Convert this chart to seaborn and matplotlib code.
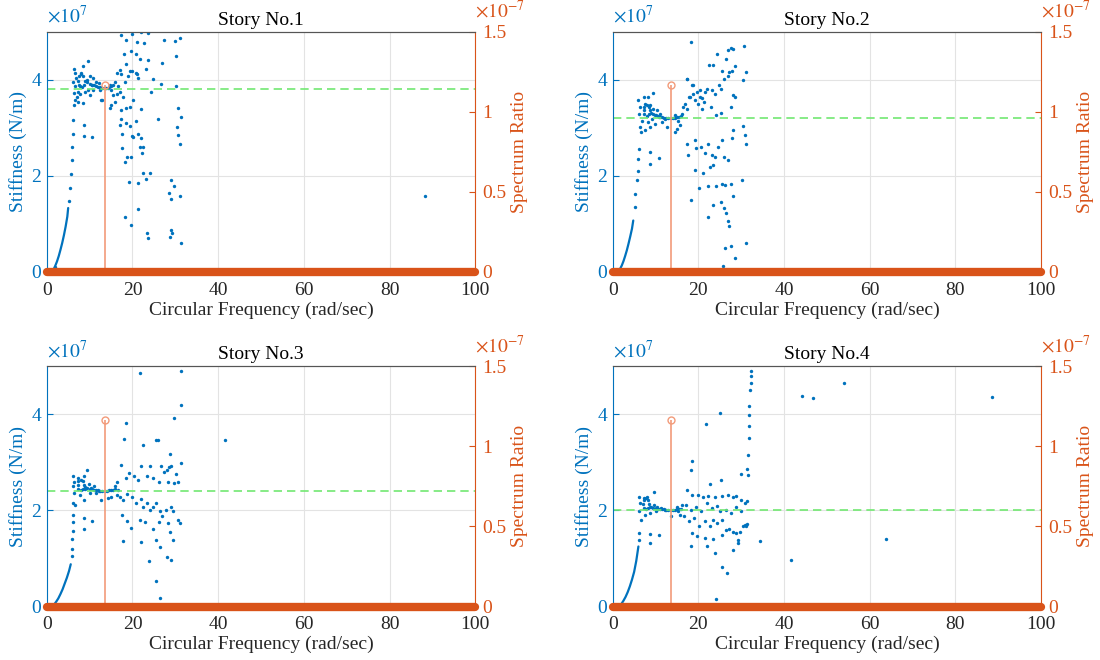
import numpy as np
import matplotlib
matplotlib.use("Agg")
import matplotlib.pyplot as plt
import seaborn as sns
from matplotlib.ticker import FuncFormatter

# ---- data (frequency in rad/sec, stiffness in units of 1e7 N/m) ----
titles = ['Story No.1', 'Story No.2', 'Story No.3', 'Story No.4']

# mean stiffness (green dashed line), 1e7 N/m
k_mean = [3.8, 3.2, 2.4, 2.0]

# spectrum ratio peak (stem), units of 1e-7
peak_freq = [13.5, 13.6, 13.5, 13.6]
peak_ratio = [1.165, 1.165, 1.165, 1.165]
band_freq = [0, 100]      # spectrum ratio is zero over the whole band

# low frequency rise (drawn as a continuous curve)
s1_rise = [(1.2, 0.0), (1.6, 0.05), (2.0, 0.13), (2.4, 0.22), (2.8, 0.33), (3.2, 0.46),
           (3.6, 0.60), (4.0, 0.76), (4.4, 0.94), (4.8, 1.15), (5.0, 1.33)]
s2_rise = [(1.3, 0.0), (1.7, 0.06), (2.1, 0.13), (2.5, 0.22), (2.9, 0.33), (3.3, 0.45),
           (3.7, 0.59), (4.1, 0.74), (4.5, 0.90), (4.8, 1.07)]
s3_rise = [(1.2, 0.0), (1.7, 0.04), (2.2, 0.10), (2.7, 0.17), (3.2, 0.26), (3.7, 0.36),
           (4.2, 0.48), (4.7, 0.60), (5.2, 0.74), (5.6, 0.88)]
s4_rise = [(1.5, 0.0), (2.0, 0.05), (2.5, 0.12), (3.0, 0.20), (3.5, 0.30), (4.0, 0.42),
           (4.5, 0.56), (5.0, 0.72), (5.5, 0.95), (6.0, 1.25)]

s1_points = [
    (5.2, 1.47), (5.4, 1.75), (5.6, 2.04), (5.8, 2.32), (6.0, 2.6), (6.05, 2.88), (6.2, 3.16), (2.0, 0.1),
    (6.4, 4.22), (6.6, 4.14), (6.8, 4.04), (6.2, 3.96), (6.5, 3.86), (6.4, 3.72), (6.5, 3.58), (6.4, 3.47),
    (7.0, 3.65), (7.4, 3.54), (8.4, 3.51), (8.5, 4.28), (9.7, 4.39), (8.1, 4.14), (9.3, 4.0), (10.1, 4.07),
    (10.9, 4.04), (10.5, 3.89), (9.7, 3.79), (8.9, 3.75), (10.1, 3.68), (10.9, 3.79), (12.1, 3.93), (12.8, 3.58),
    (14.7, 3.89), (15.1, 3.79), (15.5, 3.68), (15.9, 3.54), (15.1, 3.47), (14.7, 3.42), (16.3, 4.14), (17.1, 4.21),
    (17.4, 4.11), (16.7, 3.86), (17.1, 3.75), (17.8, 3.65), (18.2, 3.96), (19.0, 4.07), (19.4, 4.18), (20.2, 3.58),
    (18.4, 3.42), (20.9, 4.14), (21.3, 4.04), (17.4, 3.37), (7.2, 3.75), (7.8, 3.7), (11.5, 3.95), (12.4, 3.78),
    (16.0, 3.95), (16.5, 3.7), (8.6, 3.05), (8.6, 2.83), (10.6, 2.81), (12.7, 3.57),
    (7.4, 3.98), (7.6, 4.08), (8.0, 4.12), (8.5, 4.08), (8.9, 3.98), (8.7, 3.88), (8.3, 3.84), (7.8, 3.86), (7.5, 3.9),
    (9.5, 3.95), (10.0, 3.92), (10.5, 3.9), (11.0, 3.88), (11.5, 3.86), (12.0, 3.85), (12.5, 3.84), (13.0, 3.83),
    (13.3, 3.82), (13.6, 3.82), (13.9, 3.82), (14.2, 3.83), (14.5, 3.84), (14.8, 3.86), (15.1, 3.87), (15.4, 3.88),
    (17.3, 4.93), (18.6, 4.82), (19.9, 4.95), (21.0, 4.78), (21.9, 4.99), (22.8, 4.77), (23.6, 4.97), (27.4, 4.82),
    (29.9, 4.80), (31.1, 4.87), (18.1, 4.54), (19.6, 4.59), (20.9, 4.54), (21.7, 4.43), (23.7, 4.41), (26.8, 4.35),
    (30.1, 4.50), (18.4, 4.33), (20.0, 4.19), (21.1, 4.12), (23.2, 4.23), (24.8, 4.02), (26.6, 3.92), (30.1, 3.86),
    (24.4, 3.74), (19.4, 3.43), (22.1, 3.40), (25.9, 3.19), (30.7, 3.42), (31.3, 3.23), (30.5, 3.02), (30.7, 2.85),
    (31.0, 2.67), (17.3, 3.19), (17.2, 3.05), (17.6, 2.88), (18.6, 3.09), (19.5, 3.03), (19.8, 2.83), (20.2, 2.81),
    (20.8, 3.14), (21.2, 2.88), (22.1, 2.78), (17.6, 2.57), (18.8, 2.40), (19.6, 2.40), (18.2, 2.29), (21.7, 2.60),
    (22.5, 2.60), (22.2, 2.47), (19.2, 1.88), (21.2, 1.86), (22.5, 2.05), (24.1, 2.05), (23.2, 1.93), (28.9, 1.91),
    (29.6, 1.78), (28.6, 1.64), (29.1, 1.51), (31.1, 1.57), (18.2, 1.14), (19.6, 0.98), (21.2, 1.31), (23.3, 0.81),
    (23.7, 0.70), (29.1, 0.88), (29.3, 0.81), (28.8, 0.72), (31.4, 0.61), (88.4, 1.59),
]

s2_points = [
    (5.1, 1.35), (5.3, 1.63), (5.6, 1.91), (5.8, 2.11), (6.0, 2.36), (6.1, 2.56),
    (6.0, 3.57), (6.4, 3.43), (6.2, 3.29), (6.8, 3.15), (6.4, 3.02), (6.6, 2.91), (7.2, 3.64), (8.3, 3.65),
    (9.5, 3.73), (7.5, 3.50), (8.7, 3.47), (9.5, 3.40), (10.3, 3.36), (11.1, 3.29), (10.7, 3.22), (9.9, 3.26),
    (9.1, 3.19), (8.3, 3.12), (8.7, 3.02), (9.9, 3.08), (11.4, 3.12), (12.6, 3.02), (12.2, 3.19), (14.5, 3.26),
    (15.3, 3.15), (15.7, 3.05), (14.9, 2.98), (14.5, 2.91), (16.1, 3.29), (16.5, 3.43), (16.9, 3.50), (17.4, 3.40),
    (17.4, 4.02), (18.4, 3.88), (18.1, 3.64), (18.8, 3.71), (19.6, 3.74), (20.4, 3.64), (21.2, 3.54), (20.8, 3.40),
    (8.6, 2.50), (8.8, 2.25), (10.8, 2.38), (7.6, 2.95),
    (7.2, 3.36), (7.4, 3.44), (7.9, 3.47), (8.4, 3.44), (8.6, 3.36), (8.4, 3.28), (7.9, 3.25), (7.4, 3.28),
    (9.0, 3.30), (9.5, 3.28), (10.0, 3.26), (10.5, 3.24), (11.0, 3.23), (11.5, 3.22), (12.0, 3.21), (12.5, 3.20),
    (13.0, 3.20), (13.5, 3.20), (14.0, 3.20), (14.5, 3.21), (15.0, 3.22), (15.5, 3.23), (16.0, 3.24),
    (18.2, 4.78), (24.4, 4.54), (22.5, 4.30), (23.5, 4.30), (25.6, 4.19), (26.4, 4.43), (27.0, 4.61), (27.6, 4.66),
    (28.0, 4.64), (27.2, 4.16), (27.8, 4.19), (26.8, 4.07), (26.0, 4.02), (30.7, 4.70), (31.1, 4.16), (30.5, 3.99),
    (28.6, 4.28), (17.4, 4.01), (18.7, 3.88), (20.3, 3.78), (21.5, 3.74), (21.9, 3.81), (23.1, 3.78), (23.9, 3.71),
    (24.8, 3.88), (25.2, 3.81), (28.0, 3.68), (28.5, 3.64), (17.8, 3.64), (19.1, 3.57), (19.9, 3.50), (20.9, 3.61),
    (23.0, 3.43), (24.0, 3.26), (25.2, 3.30), (27.6, 3.43), (30.3, 3.03), (30.8, 2.85), (31.1, 2.67), (28.0, 2.95),
    (27.9, 2.78), (17.4, 2.67), (17.6, 2.43), (19.1, 2.74), (19.5, 2.57), (20.7, 2.60), (21.5, 2.47), (22.3, 2.67),
    (23.1, 2.43), (23.9, 2.40), (24.6, 2.60), (25.6, 2.74), (26.0, 2.40), (19.1, 2.12), (21.1, 2.05), (22.7, 2.19),
    (23.5, 2.22), (26.8, 2.33), (18.2, 1.50), (20.2, 1.75), (22.3, 1.78), (24.0, 1.78), (25.4, 1.84), (26.3, 1.81),
    (27.6, 1.84), (30.1, 1.91), (23.4, 1.40), (25.2, 1.46), (25.9, 1.33), (26.4, 1.22), (26.8, 1.07), (27.2, 0.95),
    (28.0, 1.57), (22.2, 1.15), (26.2, 0.50), (27.6, 0.53), (31.0, 0.60), (28.6, 0.30), (25.8, 0.12),
]

s3_points = [
    (5.8, 1.05), (5.9, 1.2), (6.0, 1.4), (6.05, 1.58), (6.1, 1.75), (6.2, 1.9),
    (6.1, 2.71), (6.3, 2.60), (6.1, 2.50), (6.3, 2.36), (6.1, 2.15), (6.5, 2.12), (7.3, 2.67), (8.6, 2.71),
    (9.4, 2.85), (8.9, 2.44), (9.8, 2.56), (10.4, 2.47), (11.0, 2.50), (10.2, 2.36), (11.4, 2.36), (8.6, 2.22),
    (7.8, 2.33), (12.2, 2.40), (15.9, 2.50), (15.1, 2.29), (14.3, 2.26), (12.7, 2.22), (16.3, 2.60), (16.7, 2.43),
    (16.5, 2.33), (8.6, 1.84), (8.6, 1.61), (10.6, 1.77),
    (7.2, 2.53), (7.4, 2.61), (7.9, 2.64), (8.4, 2.61), (8.6, 2.53), (8.4, 2.45), (7.9, 2.42), (7.4, 2.45),
    (9.0, 2.48), (9.5, 2.46), (10.0, 2.45), (10.5, 2.44), (11.0, 2.43), (11.5, 2.42), (12.0, 2.42), (12.5, 2.41),
    (13.0, 2.41), (13.5, 2.41), (14.0, 2.41), (14.5, 2.42), (15.0, 2.42), (15.5, 2.43), (16.0, 2.44),
    (21.7, 4.86), (31.3, 4.90), (31.3, 4.19), (29.6, 3.92), (18.5, 3.82), (18.0, 3.49), (22.4, 3.37), (25.5, 3.47),
    (25.9, 3.46), (41.6, 3.46), (28.8, 3.17), (17.4, 2.95), (22.0, 2.92), (24.1, 2.93), (26.7, 2.93), (27.3, 2.81),
    (28.0, 2.85), (28.6, 2.90), (29.1, 2.92), (31.3, 2.99), (30.2, 2.76), (19.2, 2.78), (20.4, 2.71), (21.2, 2.64),
    (23.3, 2.71), (24.9, 2.67), (26.1, 2.60), (28.2, 2.60), (18.5, 2.67), (29.8, 2.57), (30.6, 2.60),
    (17.1, 2.29), (17.9, 2.21), (18.8, 2.35), (20.0, 2.29), (20.8, 2.15), (22.0, 2.24), (22.4, 2.08), (23.3, 2.15),
    (24.1, 2.01), (24.9, 2.08), (25.5, 2.15), (26.5, 1.98), (27.8, 2.01), (29.0, 2.08), (29.4, 1.98), (17.6, 1.91),
    (18.8, 1.77), (19.6, 1.63), (21.7, 1.81), (22.9, 1.75), (24.9, 1.61), (26.1, 1.75), (26.9, 1.88), (28.2, 1.74),
    (28.7, 1.55), (29.4, 1.39), (31.0, 1.74), (30.6, 1.81), (17.9, 1.37), (22.0, 1.34), (25.6, 1.39), (26.5, 1.24),
    (28.0, 1.04), (29.0, 0.97), (23.9, 0.95), (25.5, 0.54), (26.5, 0.17),
]

s4_points = [
    (6.1, 1.39), (6.2, 1.53),
    (6.1, 2.29), (6.4, 2.15), (6.2, 1.98), (6.5, 1.81), (7.2, 2.26), (8.0, 2.29), (9.6, 2.38), (8.8, 2.08),
    (9.6, 2.12), (10.4, 2.08), (11.3, 2.05), (10.0, 1.98), (8.8, 1.94), (7.6, 1.91), (12.1, 2.01), (15.3, 1.98),
    (14.9, 2.08), (15.8, 1.91), (13.7, 1.88), (16.2, 2.12), (8.8, 1.51), (8.8, 1.32), (10.7, 1.49),
    (7.1, 2.14), (7.3, 2.22), (7.8, 2.25), (8.3, 2.22), (8.5, 2.14), (8.3, 2.06), (7.8, 2.03), (7.3, 2.06),
    (9.0, 2.08), (9.5, 2.06), (10.0, 2.05), (10.5, 2.04), (11.0, 2.03), (11.5, 2.02), (12.0, 2.02), (12.5, 2.01),
    (13.0, 2.01), (13.5, 2.01), (14.0, 2.01), (14.5, 2.01), (15.0, 2.02), (15.5, 2.02), (16.0, 2.03),
    (32.2, 4.90), (32.2, 4.79), (32.2, 4.65), (32.1, 4.50), (31.9, 4.18), (31.8, 3.99), (31.8, 3.75), (31.7, 3.51),
    (31.6, 3.16), (31.3, 2.86), (31.5, 2.73), (29.9, 2.76), (44.2, 4.39), (46.7, 4.34), (54.1, 4.65), (88.6, 4.36),
    (63.9, 1.40), (41.7, 0.96), (34.4, 1.37), (25.0, 4.03), (21.7, 3.80), (18.2, 2.85), (18.6, 3.02), (22.7, 2.55),
    (25.3, 2.64), (17.4, 2.43), (18.4, 2.33), (19.8, 2.33), (21.1, 2.29), (22.3, 2.31), (23.9, 2.29), (25.6, 2.31),
    (26.8, 2.33), (28.0, 2.29), (28.8, 2.31), (30.0, 2.22), (30.9, 2.15), (31.3, 2.19), (17.0, 2.12), (18.2, 2.01),
    (19.4, 2.08), (20.7, 1.98), (21.9, 2.15), (23.1, 2.05), (24.3, 2.10), (25.1, 1.98), (26.4, 2.01), (27.6, 1.94),
    (28.8, 2.08), (30.0, 1.98), (16.6, 1.88), (17.8, 1.77), (19.0, 1.84), (20.2, 1.67), (21.5, 1.77), (22.7, 1.67),
    (23.5, 1.81), (24.3, 1.74), (25.6, 1.81), (26.4, 1.60), (27.2, 1.61), (28.0, 1.56), (28.8, 1.53), (29.6, 1.56),
    (30.4, 1.67), (30.9, 1.70), (31.2, 1.67), (31.3, 1.72), (18.6, 1.53), (19.7, 1.46), (21.5, 1.42), (23.3, 1.40),
    (25.6, 1.49), (29.2, 1.39), (18.2, 1.25), (22.0, 1.26), (23.9, 1.11), (28.0, 1.17), (29.2, 1.32), (25.6, 0.82),
    (26.6, 0.69), (24.2, 0.15),
]

rises = [s1_rise, s2_rise, s3_rise, s4_rise]
points = [s1_points, s2_points, s3_points, s4_points]

# ---- style ----
sns.set_style("white")
plt.rcParams['font.family'] = ['Liberation Serif', 'DejaVu Serif']
plt.rcParams['mathtext.fontset'] = 'stix'

blue = '#0072BD'
orange = '#D95319'
stem_col = '#F29B7A'
green = '#72E872'
dark = '#262626'

fig = plt.figure(figsize=(11, 6.6), dpi=100)
boxes = [[0.0425, 0.588, 0.3895, 0.364], [0.557, 0.588, 0.3895, 0.364],
         [0.0425, 0.081, 0.3895, 0.364], [0.557, 0.081, 0.3895, 0.364]]

for i in range(4):
    ax = fig.add_axes(boxes[i])
    rf, rk = zip(*rises[i])
    pf, pk = zip(*points[i])
    rk = np.array(rk) * 1e7
    pk = np.array(pk) * 1e7

    ax.grid(True, color='#E3E3E3', lw=0.8)
    ax.set_axisbelow(True)

    # stiffness estimates
    sns.lineplot(x=list(rf), y=rk, ax=ax, color=blue, lw=1.6, sort=False, estimator=None)
    sns.scatterplot(x=list(pf), y=pk, ax=ax, color=blue, s=6, linewidth=0, legend=False)
    ax.axhline(k_mean[i] * 1e7, color=green, ls=(0, (5, 3)), lw=1.2)

    ax.set_xlim(0, 100)
    ax.set_ylim(0, 5e7)
    ax.set_xticks([0, 20, 40, 60, 80, 100])
    ax.set_yticks([0, 2e7, 4e7])
    ax.yaxis.set_major_formatter(FuncFormatter(lambda v, p: f'{v / 1e7:g}'))
    ax.tick_params(axis='y', colors=blue, labelcolor=blue, direction='in', labelsize=14, length=4, pad=4)
    ax.tick_params(axis='x', colors=dark, direction='in', labelsize=14, length=4, pad=7)
    ax.set_xlabel('Circular Frequency (rad/sec)', fontsize=14, color=dark, labelpad=2)
    ax.set_ylabel('Stiffness (N/m)', fontsize=14, color=blue, labelpad=3)
    ax.set_title(titles[i], fontsize=14, color='black', pad=5)
    ax.text(0.0, 1.02, r'$\times 10^{7}$', transform=ax.transAxes, color=blue, fontsize=14,
            ha='left', va='bottom')
    ax.spines['left'].set_color(blue)
    ax.spines['top'].set_color('#555555')
    ax.spines['bottom'].set_color(dark)
    ax.spines['right'].set_visible(False)

    # spectrum ratio on the right axis
    ax2 = ax.twinx()
    ax2.vlines(peak_freq[i], 0, peak_ratio[i] * 1e-7, color=stem_col, lw=1.2)
    ax2.plot([peak_freq[i]], [peak_ratio[i] * 1e-7], 'o', mfc='none', mec=stem_col, ms=5, mew=1)
    ax2.plot([peak_freq[i]], [0], 'o', mfc='none', mec=stem_col, ms=5, mew=1)
    ax2.plot(band_freq, [0, 0], color=orange, lw=6, solid_capstyle='round', clip_on=False)
    ax2.set_ylim(0, 1.5e-7)
    ax2.set_yticks([0, 0.5e-7, 1e-7, 1.5e-7])
    ax2.yaxis.set_major_formatter(FuncFormatter(lambda v, p: f'{v / 1e-7:g}'))
    ax2.tick_params(axis='y', colors=orange, labelcolor=orange, direction='in', labelsize=14, length=4, pad=5)
    ax2.set_ylabel('Spectrum Ratio', fontsize=14, color=orange, labelpad=3)
    ax2.text(1.0, 1.04, r'$\times 10^{-7}$', transform=ax2.transAxes, color=orange, fontsize=14,
             ha='left', va='bottom')
    ax2.spines['right'].set_color(orange)
    ax2.spines['left'].set_visible(False)
    ax2.spines['top'].set_color('#555555')
    ax2.spines['bottom'].set_visible(False)

fig.savefig('out.png', dpi=100)
